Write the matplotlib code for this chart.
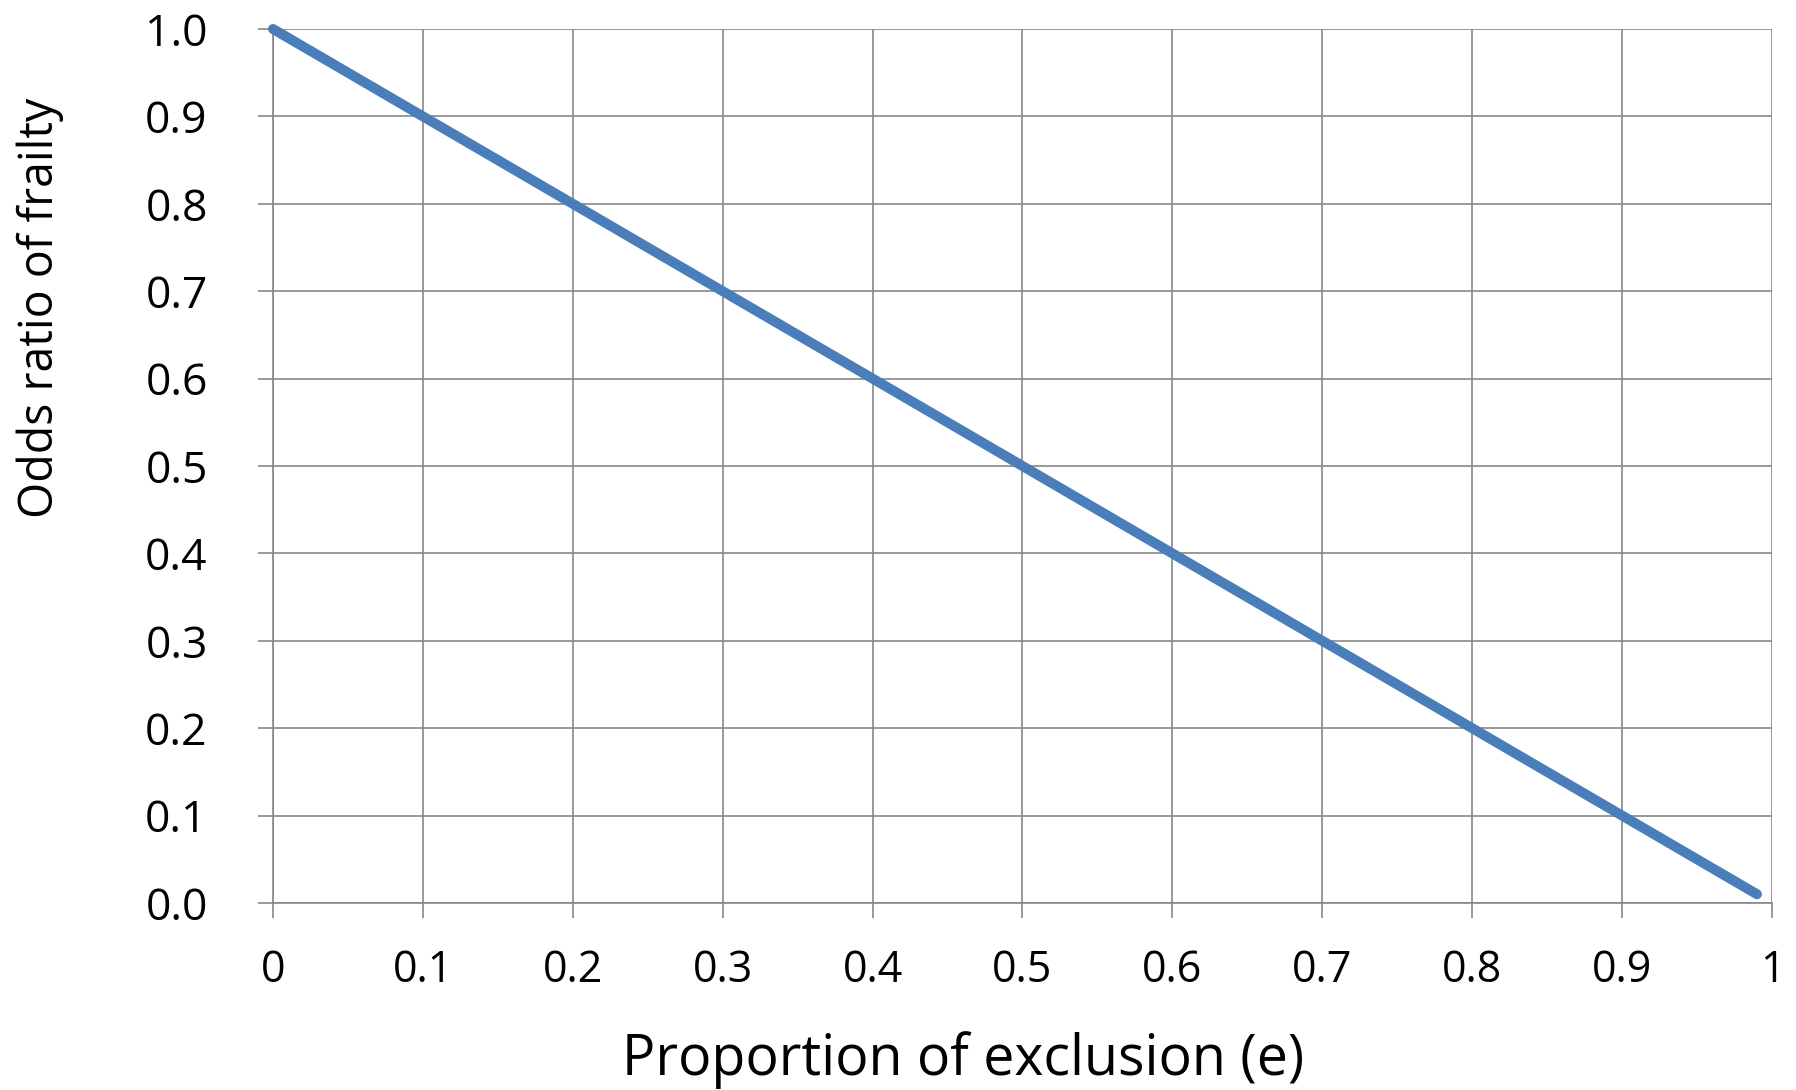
import matplotlib
matplotlib.use("Agg")
import matplotlib.pyplot as plt

exclusion = [0, 0.1, 0.2, 0.3, 0.4, 0.5, 0.6, 0.7, 0.8, 0.9, 0.99]
odds_ratio = [1.0, 0.9, 0.8, 0.7, 0.6, 0.5, 0.4, 0.3, 0.2, 0.1, 0.01]
x_ticks = [0, 0.1, 0.2, 0.3, 0.4, 0.5, 0.6, 0.7, 0.8, 0.9, 1]
x_labels = ["0", "0.1", "0.2", "0.3", "0.4", "0.5", "0.6", "0.7", "0.8", "0.9", "1"]
y_ticks = [0.0, 0.1, 0.2, 0.3, 0.4, 0.5, 0.6, 0.7, 0.8, 0.9, 1.0]
y_labels = ["0.0", "0.1", "0.2", "0.3", "0.4", "0.5", "0.6", "0.7", "0.8", "0.9", "1.0"]

plt.rcParams['font.family'] = ['Open Sans', 'DejaVu Sans']
fig = plt.figure(figsize=(17.96, 10.90), dpi=100)
ax = fig.add_axes([0.152, 0.1716, 0.9866 - 0.152, 0.9734 - 0.1716])

grid_c = "#878787"
ax.plot(exclusion, odds_ratio, color="#4a7ebb", lw=7.2, solid_capstyle="round", zorder=3, clip_on=False)
ax.set_xlim(0, 1)
ax.set_ylim(0, 1)
ax.set_xticks(x_ticks)
ax.set_xticklabels(x_labels, fontsize=31)
ax.set_yticks(y_ticks)
ax.set_yticklabels(y_labels, fontsize=32)
ax.grid(True, color=grid_c, lw=1.2)
for s in ["top", "right"]:
    ax.spines[s].set_visible(False)
for s in ["left", "bottom"]:
    ax.spines[s].set_color(grid_c)
    ax.spines[s].set_linewidth(1.2)
ax.tick_params(axis="both", direction="out", length=11, width=1.2, color=grid_c)
ax.tick_params(axis="x", pad=22)
ax.tick_params(axis="y", pad=36)
ax.set_xlabel("Proportion of exclusion (e)", fontsize=40, va="center")
ax.xaxis.set_label_coords(0.4605, -0.1796)
ax.set_ylabel("Odds ratio of frailty", fontsize=33.5, va="center")
ax.yaxis.set_label_coords(-0.155, 0.681)

fig.savefig("out.png", dpi=100)
